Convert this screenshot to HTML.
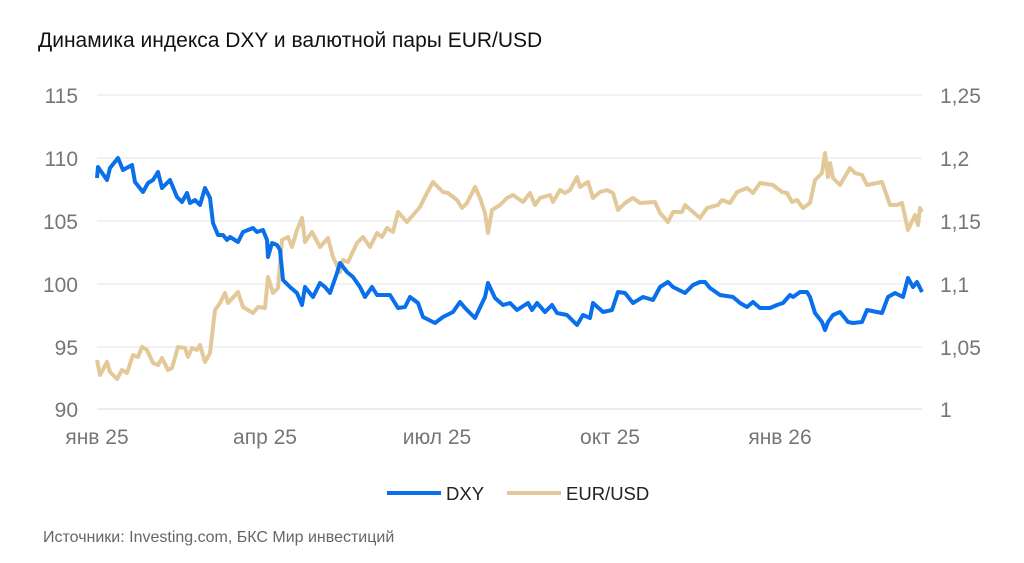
<!DOCTYPE html>
<html><head><meta charset="utf-8"><style>
body{margin:0;background:#fff;}
svg{display:block;font-family:"Liberation Sans",sans-serif;}
</style></head><body>
<svg width="1024" height="563" viewBox="0 0 1024 563">
<text x="38" y="47" font-size="21" fill="#111">Динамика индекса DXY и валютной пары EUR/USD</text>
<g stroke="#e6e6e6" stroke-width="1">
<line x1="97" x2="922" y1="95" y2="95"/><line x1="97" x2="922" y1="158" y2="158"/>
<line x1="97" x2="922" y1="221" y2="221"/><line x1="97" x2="922" y1="284" y2="284"/>
<line x1="97" x2="922" y1="347" y2="347"/></g>
<line x1="97" x2="922" y1="409" y2="409" stroke="#d9d9d9" stroke-width="1"/>
<g font-size="21" fill="#767676" text-anchor="end">
<text x="78" y="103">115</text><text x="78" y="166">110</text><text x="78" y="229">105</text>
<text x="78" y="292">100</text><text x="78" y="355">95</text><text x="78" y="417">90</text></g>
<g font-size="21" fill="#767676">
<text x="940" y="103">1,25</text><text x="940" y="166">1,2</text><text x="940" y="229">1,15</text>
<text x="940" y="292">1,1</text><text x="940" y="355">1,05</text><text x="940" y="417">1</text></g>
<g font-size="21" fill="#767676" text-anchor="middle">
<text x="97" y="444">янв 25</text><text x="265" y="444">апр 25</text><text x="437" y="444">июл 25</text>
<text x="610" y="444">окт 25</text><text x="780" y="444">янв 26</text></g>
<polyline fill="none" stroke="#e3c99a" stroke-width="4" stroke-linejoin="round" points="97,360 100,375 107,362 110,372 117,379 122,370 127,373 133,355 138,357 142,347 147,350 153,363 158,365 162,358 168,370 172,368 178,347 185,348 188,357 192,348 197,350 200,345 205,362 210,353 215,310 220,303 225,293 228,303 238,292 243,307 253,313 258,307 265,308 268,277 273,293 278,288 282,240 288,237 292,247 297,230 302,218 305,242 312,232 320,247 328,238 333,257 340,272 343,260 348,262 357,243 363,237 370,247 377,233 382,237 387,228 393,232 398,212 407,222 420,207 427,193 433,182 443,192 448,193 457,200 462,208 467,203 475,187 480,198 485,213 488,233 492,210 500,205 507,198 513,195 523,202 530,193 535,205 540,198 550,195 553,202 560,190 565,193 570,190 577,177 580,187 588,182 593,198 600,192 607,190 613,193 618,210 625,203 633,198 640,203 655,202 660,213 668,222 673,212 682,212 685,205 693,212 700,218 707,208 718,205 722,200 730,203 737,192 747,188 753,193 760,183 773,185 782,192 787,193 792,202 797,200 803,208 810,203 815,180 822,173 825,153 828,177 830,163 833,178 840,185 843,180 850,168 855,173 862,175 867,185 877,183 882,182 890,205 897,205 902,203 908,230 915,215 918,225 920,208 922,212"/>
<polyline fill="none" stroke="#0a6fea" stroke-width="4" stroke-linejoin="round" points="97,178 98,167 107,180 110,168 118,158 123,170 132,165 135,182 143,192 148,183 153,180 158,172 162,188 170,180 177,197 182,202 187,193 190,203 195,200 200,205 205,188 210,198 213,223 218,235 223,235 227,240 230,237 238,242 243,232 253,228 257,232 263,230 267,240 268,257 272,243 277,245 280,250 283,280 290,287 297,293 302,305 305,287 313,297 320,283 325,287 330,293 337,273 340,263 347,272 353,277 360,287 365,297 372,287 377,295 383,295 390,295 398,308 405,307 410,297 418,303 423,317 435,323 443,317 453,312 460,302 465,308 475,318 485,297 488,283 495,298 503,305 510,303 517,310 528,303 532,310 537,303 545,312 552,305 557,313 567,315 577,325 583,315 590,318 593,303 603,312 612,310 618,292 625,293 633,303 643,297 653,300 660,287 668,282 673,287 685,293 693,285 700,282 705,282 710,288 720,295 733,297 740,303 747,307 753,302 760,308 770,308 777,305 783,303 790,295 793,297 800,292 807,292 810,297 815,313 822,322 825,330 828,322 833,315 840,312 848,322 853,323 862,322 867,310 877,312 882,313 888,297 895,293 903,297 908,278 913,287 917,282 922,292"/>
<line x1="387" x2="441" y1="493" y2="493" stroke="#0a6fea" stroke-width="4"/>
<text x="446" y="500" font-size="18.5" fill="#222">DXY</text>
<line x1="507" x2="561" y1="493" y2="493" stroke="#e3c99a" stroke-width="4"/>
<text x="566" y="500" font-size="18.5" fill="#222">EUR/USD</text>
<text x="43" y="542" font-size="16" fill="#666">Источники: Investing.com, БКС Мир инвестиций</text>
</svg>
</body></html>
